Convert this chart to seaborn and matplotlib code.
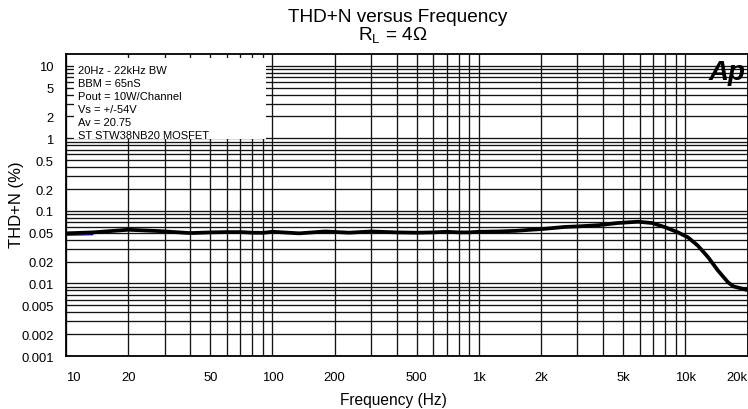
import matplotlib
matplotlib.use("Agg")
import matplotlib.pyplot as plt
import matplotlib.ticker as mticker
from matplotlib.patches import Rectangle
import numpy as np
import pandas as pd
import seaborn as sns

# THD+N sweep, 4 ohm load
freq_hz = [10, 13.5, 20, 28, 40, 50, 60, 70, 80, 90, 100, 135, 180, 235, 300,
           400, 500, 600, 700, 800, 900, 1000, 1250, 1500, 1800, 2000, 2600,
           3000, 3800, 4700, 5900, 6900, 8000, 9200, 10300, 11500, 12900,
           14400, 16100, 17100, 20000]
thd_pct = [0.0490, 0.0505, 0.0549, 0.0527, 0.0494, 0.0505, 0.0510, 0.0510,
           0.0500, 0.0498, 0.0515, 0.0490, 0.0520, 0.0500, 0.0520, 0.0505,
           0.0500, 0.0505, 0.0515, 0.0505, 0.0505, 0.0515, 0.0520, 0.0530,
           0.0550, 0.0560, 0.0600, 0.0610, 0.0635, 0.0680, 0.0708, 0.0680,
           0.0593, 0.0506, 0.0431, 0.0331, 0.0229, 0.0150, 0.01035, 0.0091,
           0.0081]

# second trace, only visible at the low end
freq2_hz = [10, 13.5]
thd2_pct = [0.0462, 0.0470]

x_ticks = [10, 20, 50, 100, 200, 500, 1000, 2000, 5000, 10000, 20000]
x_labels = ["10", "20", "50", "100", "200", "500", "1k", "2k", "5k", "10k", "20k"]
y_ticks = [0.001, 0.002, 0.005, 0.01, 0.02, 0.05, 0.1, 0.2, 0.5, 1, 2, 5, 10]
y_labels = ["0.001", "0.002", "0.005", "0.01", "0.02", "0.05", "0.1", "0.2",
            "0.5", "1", "2", "5", "10"]

notes = ["20Hz - 22kHz BW", "BBM = 65nS", "Pout = 10W/Channel",
         "Vs = +/-54V", "Av = 20.75", "ST STW38NB20 MOSFET"]

sns.set_style("white")
plt.rcParams["font.family"] = ["Liberation Sans", "DejaVu Sans"]
for key in ("text.color", "axes.labelcolor", "xtick.color", "ytick.color"):
    plt.rcParams[key] = "black"

W, H = 748, 410
fig = plt.figure(figsize=(W / 100, H / 100), dpi=100)
L, R, T, B = 66, 747.5, 55, 357
ax = fig.add_axes([L / W, 1 - B / H, (R - L) / W, (B - T) / H])

ax.set_xscale("log")
ax.set_yscale("log")
ax.set_xlim(10, 20000)
ax.set_ylim(0.001, 14.5)

# full log grid: every 1..9 step in each decade
xgrid = [m * 10 ** d for d in range(1, 5) for m in range(1, 10) if m * 10 ** d <= 20000]
ygrid = [m * 10.0 ** d for d in range(-3, 2) for m in range(1, 10) if m * 10.0 ** d <= 14.5]
ax.xaxis.set_major_locator(mticker.FixedLocator(x_ticks))
ax.xaxis.set_major_formatter(mticker.FixedFormatter(x_labels))
ax.xaxis.set_minor_locator(mticker.FixedLocator(xgrid))
ax.xaxis.set_minor_formatter(mticker.NullFormatter())
ax.yaxis.set_major_locator(mticker.FixedLocator(y_ticks))
ax.yaxis.set_major_formatter(mticker.FixedFormatter(y_labels))
ax.yaxis.set_minor_locator(mticker.FixedLocator(ygrid))
ax.yaxis.set_minor_formatter(mticker.NullFormatter())
ax.grid(True, which="both", color="#141414", linewidth=0.95)
ax.set_axisbelow(True)

ax.tick_params(which="both", length=0)
ax.tick_params(axis="x", labelsize=9.4, pad=11)
ax.tick_params(axis="y", labelsize=9.4, pad=9)
xl = ax.get_xticklabels()
xl[0].set_ha("left")
xl[-1].set_ha("right")

for s in ax.spines.values():
    s.set_color("black")
    s.set_linewidth(1.3)

df = pd.DataFrame({"f": freq_hz, "thd": thd_pct})
df2 = pd.DataFrame({"f": freq2_hz, "thd": thd2_pct})
sns.lineplot(data=df2, x="f", y="thd", ax=ax, color="#1010d0", linewidth=1.0, zorder=3)
sns.lineplot(data=df, x="f", y="thd", ax=ax, color="black", linewidth=2.7, zorder=4)

# note panel over the grid
bx0, bx1 = (74 - L) / (R - L), (266 - L) / (R - L)
by0, by1 = (B - 140) / (B - T), (B - 58.5) / (B - T)
ax.add_patch(Rectangle((bx0, by0), bx1 - bx0, by1 - by0, transform=ax.transAxes,
                       facecolor="white", edgecolor="none", zorder=2.5))
for i, line in enumerate(notes):
    ypix = 71 + i * 13
    ax.text((78 - L) / (R - L), (B - ypix) / (B - T), line, transform=ax.transAxes,
            fontsize=8, va="center", ha="left", zorder=5)

ax.text((746 - L) / (R - L), (B - 60) / (B - T), "Ap", transform=ax.transAxes,
        fontsize=20, fontweight="heavy", fontstyle="italic", ha="right", va="top",
        zorder=5)

ax.set_xlabel("Frequency (Hz)", fontsize=11.2)
ax.set_ylabel("THD+N (%)", fontsize=12)
ax.xaxis.set_label_coords((393 - L) / (R - L), (B - 401) / (B - T))
ax.yaxis.set_label_coords((17 - L) / (R - L), (B - 205) / (B - T))
ax.xaxis.label.set_va("center")
ax.yaxis.label.set_va("center")

fig.text(398 / W, 1 - 17 / H, "THD+N versus Frequency", fontsize=13.7,
         ha="center", va="center")
fig.text(393 / W, 1 - 36 / H, r"R$_\mathregular{L}$ = 4Ω", fontsize=13.7,
         ha="center", va="center")

fig.savefig("out.png", dpi=100)
